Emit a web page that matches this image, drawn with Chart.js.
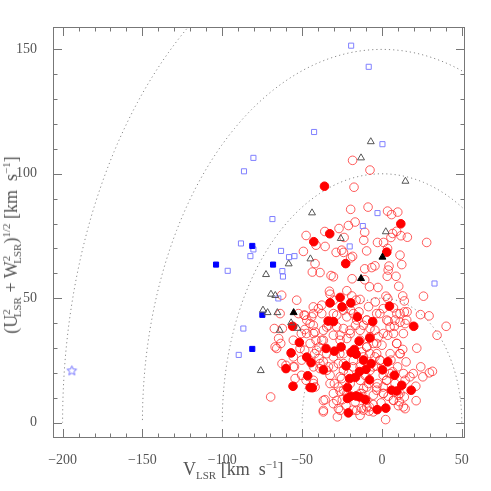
<!DOCTYPE html>
<html>
<head>
<meta charset="utf-8">
<script src="https://cdn.jsdelivr.net/npm/chart.js@4/dist/chart.umd.min.js"></script>
<style>
  html, body { margin: 0; padding: 0; background: #fff; }
  #wrap { position: relative; width: 491px; height: 491px; }
  #c { position: absolute; left: 0; top: 0; }
  .ttl { position: absolute; font-family: "Liberation Serif", serif; color: #555; white-space: nowrap; font-size: 18px; line-height: 1; }
  .ttl sub { font-size: 11px; vertical-align: -4px; }
  .ttl sup { font-size: 11px; vertical-align: 7px; }
  #ytitle { left: 12px; top: 245px; transform: translate(-50%, -50%) rotate(-90deg); transform-origin: center center; }
</style>
</head>
<body>
<div id="wrap">
  <canvas id="c" width="491" height="491"></canvas>
  <div class="ttl" id="xtitle" style="left:183px; top:459px;">V<sub>LSR</sub> [km&nbsp; s<sup>−1</sup>]</div>
  <div class="ttl" id="ytitle">(U<sup>2</sup><sub style="margin-left:-8px">LSR</sub> + W<sup>2</sup><sub style="margin-left:-8px">LSR</sub>)<sup>1/2</sup> [km&nbsp; s<sup>−1</sup>]</div>
</div>
<script>
// ---- Data (V_LSR, sqrt(U^2+W^2)) ----
const xTicks = [-200, -150, -100, -50, 0, 50];
const yTicks = [0, 50, 100, 150];
const radii = [50, 100, 150, 200];

const blueOpen = [[-19.3,151.5],[-8.3,143],[-42.5,116.8],[0.3,111.9],[-80.5,106.4],[-86.4,101],[-2.8,84.2],[-68.6,81.8],[-12,79],[-88.3,72],[-80.5,69.6],[-20.2,70.8],[-63.2,69],[-82.4,66.9],[-58.2,66.5],[-54.8,66.9],[-96.6,61],[-62.4,60.9],[-62,58.7],[32.9,55.9],[-64.9,49.9],[-86.8,37.8],[-89.7,27.2]];
const blueFilled = [[-81.2,71],[-103.9,63.5],[-68.2,63.5],[-74.9,43.3],[-81.2,29.6]];
const blueStar = [[-194.2,20.8]];
const triOpen = [[-7,112.9],[-13.1,106.4],[14.7,97],[-43.8,84.3],[2.4,76.7],[-25.8,74],[-44.8,65.8],[-58.4,63.8],[-72.6,59.5],[-69.5,51.6],[-66.8,51.1],[-74.5,45.2],[-71.6,44.2],[-65.5,44.2],[-56.9,40.1],[-52.8,37.9],[-64,37.1],[-75.9,20.9]];
const triFilled = [[0.3,66.5],[-13.1,57.9],[-55.3,44.2]];
const redFilled = [[-36,95],[11.8,79.9],[-32.7,75.9],[-42.7,72.7],[3,68.5],[-22.7,63.9],[-26.2,50.3],[-32.5,48.1],[-19.5,48.1],[-25,46.5],[4.7,46.8],[-15.4,42.5],[-33.7,40.8],[-30.4,40.6],[-5.8,40.6],[-55.9,38.7],[19.9,38.7],[-7.6,34],[-14.3,32.7],[-51.7,32.2],[-35,29.8],[-25.6,30.4],[-29.8,28.7],[-17.3,29.4],[-19.3,28.2],[-16.2,27.5],[-56.9,28],[-47.1,26.3],[-11.6,25.1],[3.6,24.4],[-44.4,24.1],[-22.5,22.8],[-6.8,23.7],[-60.1,21.7],[-36.7,21.2],[0.3,21.2],[-14,20.5],[-10,21.4],[-46.5,18.8],[7.8,19],[-20.2,17.7],[-16.6,18.2],[-7.8,17.2],[-55.7,14.6],[-45,14.1],[-43.6,14],[-21.6,14.1],[6.1,13],[9.3,12.7],[12.4,15],[18.3,13],[-16.2,10.7],[-19.5,10.6],[-21.6,9.7],[-10.4,9.2],[-14,10.3],[-3,5.2],[2.4,5.8],[-21,3.9]];
const redOpen = [[-18.4,105.4],[-17.5,94.6],[-7.5,101.5],[-8.7,86.6],[-19.6,85.7],[3.5,85],[6,83.6],[9.9,84.6],[-21,79.2],[-16.8,80.6],[-10.8,76.5],[-26.9,78],[-35.8,76.8],[-47.5,75.2],[-41.3,71.3],[-23.7,74.4],[-25.2,69.3],[-2.8,72.4],[1,72.4],[6.7,76],[9.2,76.9],[11.9,75.1],[15.9,74.5],[28,72.4],[5.6,74.4],[3.5,70],[11.3,67.3],[4.4,62.9],[12.4,63.5],[-11.4,73.3],[-9.6,69],[-18.4,66.8],[-19.6,66.2],[-28.7,68.4],[-24.1,68.4],[-35.6,70.8],[-49.2,68.8],[-41.9,63.9],[-43.6,60.5],[-38.8,60.3],[-31.9,59.1],[-30.4,58.6],[-18.7,57.8],[-10.8,61.8],[-6.4,62.3],[-4.4,63],[-10.8,57.4],[-7.8,54.6],[-2.5,54.3],[3.3,58.8],[8.8,58.8],[10.5,54.8],[3.9,61.3],[-32.9,52.8],[-32.5,51.6],[-22,53],[-18.9,50.9],[-13.7,49.5],[-16.2,49.2],[-8.4,46.6],[-4.2,48.5],[2.5,50.8],[3.6,49.9],[13,50.9],[14,48.9],[26,50.8],[15.7,44.5],[14,44.5],[11.3,43.8],[7.2,46.1],[0.8,45.8],[3.9,40.8],[24.1,43.4],[29.5,42.9],[40.2,38.7],[34.5,35.1],[21.8,29.9],[31.6,20.6],[29.7,20],[25.6,18.4],[24.3,22.4],[21.2,14.6],[21.4,8.8],[14.5,5.6],[10.3,6.8],[10.9,8.4],[14,10.3],[14.5,17],[13.5,19.7],[15.1,24.4],[11.3,27.7],[13,29.4],[9.2,31.8],[7.2,35.8],[7.8,38.7],[11.3,40.3],[3.6,35.1],[0,31.1],[-3.3,27.7],[-1.3,25.1],[-3.8,22.7],[0.8,19],[-2.7,15.7],[-3.3,13],[0.8,11.7],[3.9,10.6],[-0.6,7.9],[-5.4,7.2],[-7.9,6.3],[-5.4,4.3],[2.3,1.2],[-8.1,4.6],[-12.7,5.6],[-16.8,8.3],[-18.4,5],[-22.5,6.8],[-27.9,2.3],[-27.3,5.6],[-24.8,9.2],[-26.2,12.6],[-29.8,15.7],[-35.6,9.2],[-36.7,4.3],[-41.9,14.3],[-42.9,15.7],[-47.5,17],[-50.3,19],[-54.8,22.4],[-60.1,23],[-54.4,17.7],[-69.7,10.3],[-65.9,29.8],[-63.4,31.8],[-64.7,33.8],[-67.4,37.8],[-62.4,37.8],[-55.5,33.1],[-51.3,29.8],[-48.4,29.1],[-50.5,35.8],[-48.4,37.4],[-45,39.8],[-42.9,35.8],[-41.3,33.1],[-39.4,30.4],[-42.1,27.7],[-39.4,25.7],[-36.7,24.4],[-33.5,22.4],[-32.5,19],[-34.6,27.7],[-37.7,33.1],[-36.7,37.1],[-33.5,39.1],[-28.3,38.5],[-24.1,37.8],[-26.2,35.1],[-22,33.8],[-20,37.1],[-16.6,39.1],[-13.7,37.1],[-9.5,41.2],[-11.6,39.1],[-7.5,37.8],[-4.4,37.1],[-2.3,34.5],[-5.4,31.8],[-9.5,30.4],[-12.7,28.4],[-7.5,27.7],[-4.4,26.4],[-26.4,27.7],[-30.4,26.4],[-27.3,23.7],[-24.1,21],[-21,19.7],[-25.2,17.7],[-27.3,14.3],[-22,11.7],[-11.6,13.7],[-8.4,15.7],[-13.7,17],[-10.6,19],[-7.5,21],[-18.2,22.4],[-12.7,11.7],[-5.4,11],[-9.5,9],[-52.3,43.8],[-48.8,43.2],[-47.1,41.2],[-53.4,49.2],[-62.8,51.2],[-63.8,43.8],[-66.9,30.4],[-62.6,23.7],[-55.5,26.4],[-50.3,25.1],[-42.9,22.4],[-38.8,21.7],[-55.5,22.4],[-17.9,43.8],[-22,42.5],[-28.3,43.2],[-37.7,43.8],[-39.8,45.8],[-42.9,43.8],[-30.4,49.2],[-19.6,45.2],[-14.4,44.5],[-1.3,43.8],[8.2,41.2],[14.5,39.8],[5.6,25.1],[9.8,22.4],[6.7,20.4],[19.6,19.7],[17.5,18.4],[8.2,15.7],[2.9,17],[5,19.7],[10.3,11],[0.8,14.3],[7.2,9],[-30.4,11.7],[-30.4,7.6],[-11.6,5],[-13.7,2.9],
  [-43,46.5],[-37.7,47.2],[-48.2,43.1],[-44,42.5],[-43,39.1],[-47.2,35.8],[-41.9,36.4],[-45,31.8],[-40.9,29.1],[-36.7,33.1],[-34.6,38.4],[-30.4,35.1],[-26.2,33.1],[-19.9,35.8],[-13.7,33.1],[-9.5,30.4],[-3.3,31.8],[0.9,35.8],[5.1,38.4],[9.3,31.8],[13.4,35.8],[11.3,27.7],[5.1,27.7],[-1.2,25],[-5.4,22.4],[-13.7,22.4],[-17.9,25],[-24.1,23.7],[-30.4,22.4],[-26.2,18.4],[-19.9,15.7],[-24.1,13],[-28.3,8.9],[-32.5,15.7],[-34.6,21],[-38.8,23.7],[-43,17],[-36.7,8.9],[-36.7,4.9],[-13.7,11.7],[-9.5,14.3],[-3.3,14.3],[3,17],[0.9,11.7],[7.2,8.9],[11.3,11.7],[13.4,6.3],[-9.5,6.3],[-15.8,4.9],[-26.2,4.9],[-24.1,27.7],[-11.6,26.4],[-7.5,34.5],[-15.8,41.2],[-9.5,41.2],[-3.3,43.8],[-30.4,43.8],[-24.1,45.2],[9.3,43.8],[15.5,41.2],[3,41.2]];

const toPts = arr => arr.map(p => ({x: p[0], y: p[1]}));

// outlined star point style
function makeStar(r, color) {
  const c = document.createElement('canvas');
  const s = Math.ceil(r * 2 + 3);
  c.width = s; c.height = s;
  const g = c.getContext('2d');
  g.strokeStyle = color; g.lineWidth = 1;
  g.beginPath();
  for (let i = 0; i < 10; i++) {
    const a = -Math.PI / 2 + i * Math.PI / 5;
    const rr = i % 2 === 0 ? r : r * 0.45;
    const px = s / 2 + rr * Math.cos(a), py = s / 2 + rr * Math.sin(a);
    if (i === 0) g.moveTo(px, py); else g.lineTo(px, py);
  }
  g.closePath(); g.stroke();
  return c;
}

const circleSets = radii.map(r => {
  const pts = [];
  for (let d = 0; d <= 180; d += 1) {
    const a = d * Math.PI / 180;
    pts.push({x: r * Math.cos(a), y: r * Math.sin(a)});
  }
  return {
    data: pts, showLine: true, pointRadius: 0, borderColor: '#8a8a8a',
    borderWidth: 1, borderDash: [1.2, 3], fill: false, order: 10
  };
});

const frame = {
  id: 'frame',
  beforeDatasetsDraw(chart) {
    const {ctx, chartArea: a, scales: {x, y}} = chart;
    ctx.save();
    ctx.strokeStyle = '#777';
    ctx.lineWidth = 1;
    ctx.strokeRect(a.left + 0.5, a.top + 0.5, a.right - a.left - 1, a.bottom - a.top - 1);
    ctx.beginPath();
    for (let v = -200; v <= 50; v += 10) {
      const px = Math.round(x.getPixelForValue(v)) + 0.5;
      const L = (v % 50 === 0) ? 9 : 4.5;
      ctx.moveTo(px, a.bottom); ctx.lineTo(px, a.bottom - L);
      ctx.moveTo(px, a.top); ctx.lineTo(px, a.top + L);
    }
    for (let v = 0; v <= 150; v += 10) {
      const py = Math.round(y.getPixelForValue(v)) + 0.5;
      const L = (v % 50 === 0) ? 9 : 4.5;
      ctx.moveTo(a.left, py); ctx.lineTo(a.left + L, py);
      ctx.moveTo(a.right, py); ctx.lineTo(a.right - L, py);
    }
    ctx.stroke();
    ctx.restore();
  }
};

const fmt = v => v < 0 ? '\u2212' + Math.abs(v) : String(v);
const tickFont = {family: 'Liberation Serif', size: 14};

new Chart(document.getElementById('c'), {
  type: 'scatter',
  data: {
    datasets: [
      {data: toPts(triFilled), pointStyle: 'triangle', pointRadius: 4, backgroundColor: '#000', borderColor: '#000', borderWidth: 1, order: 1},
      {data: toPts(triOpen), pointStyle: 'triangle', pointRadius: 4, backgroundColor: 'rgba(0,0,0,0)', borderColor: '#555', borderWidth: 1, order: 2},
      {data: toPts(blueFilled), pointStyle: 'rect', pointRadius: 3.6, backgroundColor: '#0000ff', borderColor: '#0000ff', borderWidth: 1, order: 3},
      {data: toPts(blueOpen), pointStyle: 'rect', pointRadius: 3.6, backgroundColor: 'rgba(0,0,0,0)', borderColor: '#8080ff', borderWidth: 1, order: 4},
      {data: toPts(blueStar), pointStyle: makeStar(5, '#7070ff'), pointRadius: 5, order: 5},
      {data: toPts(redFilled), pointStyle: 'circle', pointRadius: 4.3, backgroundColor: '#ff0000', borderColor: '#ff0000', borderWidth: 1, order: 6},
      {data: toPts(redOpen), pointStyle: 'circle', pointRadius: 4.3, backgroundColor: 'rgba(0,0,0,0)', borderColor: 'rgba(255,40,40,0.75)', borderWidth: 1, order: 7},
      ...circleSets
    ]
  },
  options: {
    responsive: false,
    animation: false,
    events: [],
    layout: {padding: {left: 0, right: 26, top: 27, bottom: 0}},
    plugins: {legend: {display: false}, tooltip: {enabled: false}},
    scales: {
      x: {
        type: 'linear', min: -206, max: 52,
        grid: {display: false}, border: {display: false},
        afterBuildTicks: s => { s.ticks = xTicks.map(v => ({value: v})); },
        afterFit: s => { s.height = 53; },
        ticks: {font: tickFont, color: '#555', padding: 6, maxRotation: 0, callback: fmt}
      },
      y: {
        type: 'linear', min: -6.2, max: 159,
        grid: {display: false}, border: {display: false},
        afterBuildTicks: s => { s.ticks = yTicks.map(v => ({value: v})); },
        afterFit: s => { s.width = 53; },
        ticks: {font: tickFont, color: '#555', padding: 8, callback: fmt}
      }
    }
  },
  plugins: [frame]
});
</script>
</body>
</html>
